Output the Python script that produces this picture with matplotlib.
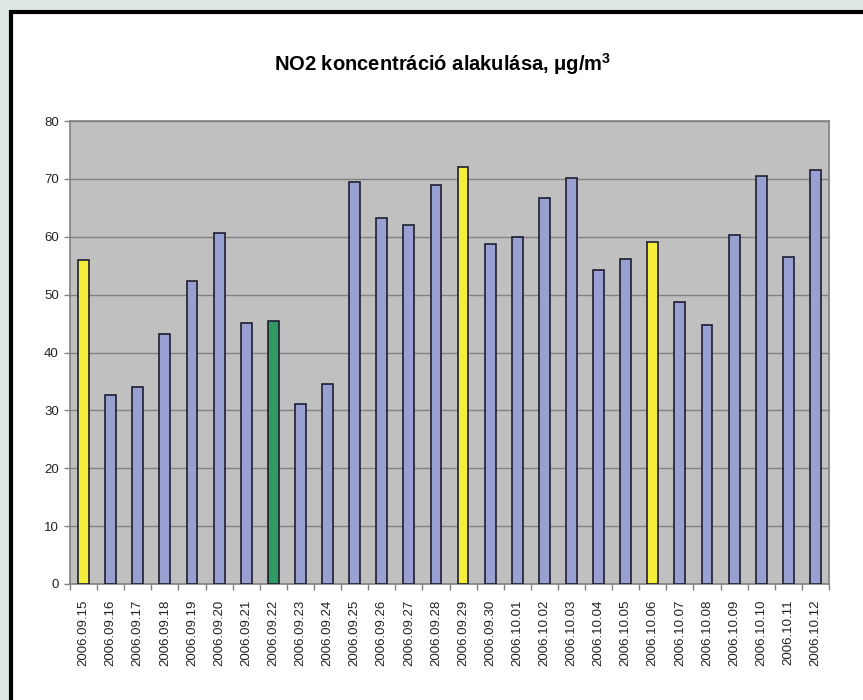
import numpy as np
import matplotlib
matplotlib.use('Agg')
import matplotlib.pyplot as plt
from matplotlib.patches import Rectangle

# Napi NO2 koncentráció (µg/m3)
dates = ['2006.09.15', '2006.09.16', '2006.09.17', '2006.09.18', '2006.09.19',
         '2006.09.20', '2006.09.21', '2006.09.22', '2006.09.23', '2006.09.24',
         '2006.09.25', '2006.09.26', '2006.09.27', '2006.09.28', '2006.09.29',
         '2006.09.30', '2006.10.01', '2006.10.02', '2006.10.03', '2006.10.04',
         '2006.10.05', '2006.10.06', '2006.10.07', '2006.10.08', '2006.10.09',
         '2006.10.10', '2006.10.11', '2006.10.12']
no2 = [56.0, 32.6, 34.0, 43.2, 52.4, 60.7, 45.1, 45.5, 31.1, 34.5,
       69.5, 63.3, 62.0, 68.9, 72.0, 58.7, 60.0, 66.7, 70.2, 54.3,
       56.1, 59.1, 48.7, 44.8, 60.3, 70.5, 56.5, 71.6]
# kiemelt napok
yellow_days = ['2006.09.15', '2006.09.29', '2006.10.06']
green_days = ['2006.09.22']
yticks = [0, 10, 20, 30, 40, 50, 60, 70, 80]

colors = []
for d in dates:
    if d in yellow_days:
        colors.append('#f4ee3a')
    elif d in green_days:
        colors.append('#2f9a62')
    else:
        colors.append('#99a1d2')

plt.rcParams['font.family'] = ['Liberation Sans', 'DejaVu Sans']

fig = plt.figure(figsize=(8.63, 7.0), dpi=100)
fig.patch.set_facecolor('#dde8e3')

# fehér keret a diagram körül
panel = Rectangle((10.5 / 863, -0.1), 1.2, 1 - 11.5 / 700 + 0.1,
                  transform=fig.transFigure, facecolor='white',
                  edgecolor='black', linewidth=3, zorder=-1)
fig.patches.append(panel)

ax = fig.add_axes([70 / 863, 1 - 584 / 700, (829 - 70) / 863, (584 - 121) / 700])
ax.set_zorder(1)
ax.set_facecolor('#c0c0c0')

x = np.arange(len(dates))
ax.bar(x, no2, width=0.4, color=colors, edgecolor='#1e1e30', linewidth=1.2, zorder=3)

ax.set_xlim(-0.5, len(dates) - 0.5)
ax.set_ylim(0, 80)
ax.set_yticks(yticks)
ax.yaxis.grid(True, color='#828282', linewidth=1.0, zorder=1)

ax.set_xticks(x)
ax.set_xticklabels(dates, rotation=90, fontsize=9.5, color='#222222')
ax.set_xticks(np.arange(len(dates) + 1) - 0.5, minor=True)
ax.tick_params(axis='x', which='major', length=0, pad=11)
ax.tick_params(axis='x', which='minor', length=4, color='#808080', width=1)
ax.tick_params(axis='y', length=4, color='#808080', width=1, labelsize=9.5,
               labelcolor='#222222', pad=4)

for s in ax.spines.values():
    s.set_color('#808080')
    s.set_linewidth(1.2)

fig.text(443 / 863, 1 - 64 / 700, 'NO2 koncentráció alakulása, $\\mathregular{\\mu}$g/m$^\\mathregular{3}$',
         ha='center', va='center', fontsize=14.5, fontweight='bold')

fig.savefig('out.png', dpi=100, facecolor=fig.get_facecolor())
